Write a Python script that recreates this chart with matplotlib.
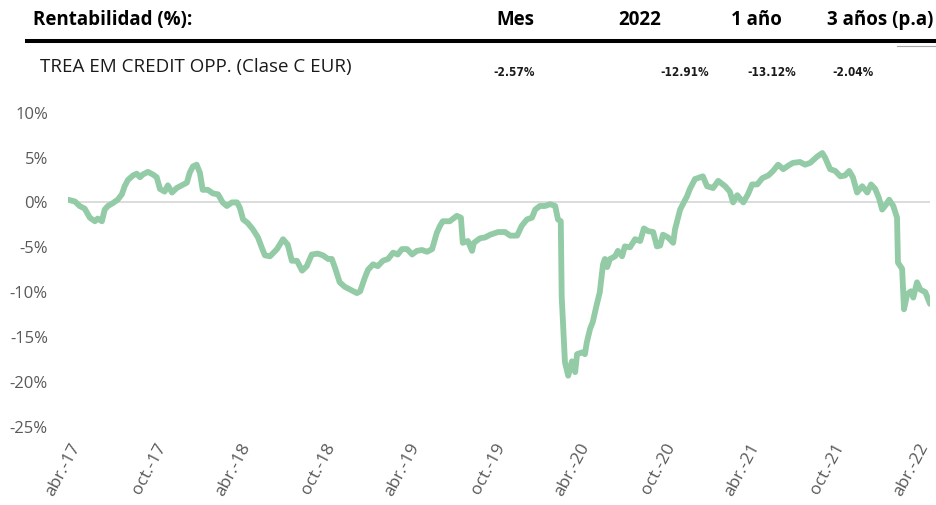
import matplotlib
matplotlib.use('Agg')
import matplotlib.pyplot as plt
import matplotlib.transforms as mtransforms
from matplotlib.lines import Line2D
import pandas as pd

# Rentabilidad acumulada del fondo (%)
fechas = [
    '2017-04-01', '2017-04-16', '2017-04-26', '2017-05-07', '2017-05-18', '2017-05-29',
    '2017-06-04', '2017-06-13', '2017-06-19', '2017-06-26', '2017-07-06', '2017-07-17',
    '2017-07-26', '2017-08-01', '2017-08-08', '2017-08-19', '2017-08-27', '2017-09-03',
    '2017-09-09', '2017-09-20', '2017-10-01', '2017-10-09', '2017-10-16', '2017-10-26',
    '2017-11-02', '2017-11-11', '2017-11-21', '2017-12-02', '2017-12-13', '2017-12-19',
    '2017-12-26', '2018-01-03', '2018-01-10', '2018-01-16', '2018-01-27', '2018-02-07',
    '2018-02-18', '2018-02-28', '2018-03-09', '2018-03-20', '2018-03-31', '2018-04-06',
    '2018-04-13', '2018-04-23', '2018-05-04', '2018-05-15', '2018-05-23', '2018-05-30',
    '2018-06-10', '2018-06-25', '2018-07-08', '2018-07-18', '2018-07-27', '2018-08-07',
    '2018-08-18', '2018-08-28', '2018-09-08', '2018-09-21', '2018-10-02', '2018-10-13',
    '2018-10-21', '2018-10-28', '2018-11-07', '2018-11-18', '2018-11-29', '2018-12-14',
    '2018-12-21', '2018-12-31', '2019-01-07', '2019-01-18', '2019-01-28', '2019-02-08',
    '2019-02-19', '2019-03-02', '2019-03-12', '2019-03-21', '2019-04-01', '2019-04-12',
    '2019-04-22', '2019-05-03', '2019-05-14', '2019-05-25', '2019-06-04', '2019-06-11',
    '2019-06-17', '2019-07-02', '2019-07-17', '2019-07-26', '2019-07-30', '2019-08-10',
    '2019-08-19', '2019-08-23', '2019-09-05', '2019-09-16', '2019-09-27', '2019-10-14',
    '2019-10-29', '2019-11-09', '2019-11-24', '2019-12-04', '2019-12-15', '2019-12-26',
    '2020-01-02', '2020-01-12', '2020-01-23', '2020-02-03', '2020-02-14', '2020-02-20',
    '2020-02-26', '2020-02-28', '2020-03-06', '2020-03-13', '2020-03-21', '2020-03-28',
    '2020-04-01', '2020-04-12', '2020-04-18', '2020-04-22', '2020-04-29', '2020-05-05',
    '2020-05-12', '2020-05-20', '2020-05-27', '2020-05-31', '2020-06-05', '2020-06-11',
    '2020-06-22', '2020-06-28', '2020-07-07', '2020-07-13', '2020-07-24', '2020-08-04',
    '2020-08-15', '2020-08-23', '2020-09-01', '2020-09-12', '2020-09-20', '2020-09-27',
    '2020-10-03', '2020-10-14', '2020-10-25', '2020-10-29', '2020-11-09', '2020-11-24',
    '2020-11-30', '2020-12-11', '2020-12-28', '2021-01-06', '2021-01-19', '2021-01-30',
    '2021-02-14', '2021-02-24', '2021-03-03', '2021-03-12', '2021-03-25', '2021-04-04',
    '2021-04-13', '2021-04-24', '2021-05-05', '2021-05-18', '2021-05-28', '2021-06-08',
    '2021-06-19', '2021-06-30', '2021-07-10', '2021-07-25', '2021-08-05', '2021-08-16',
    '2021-08-31', '2021-09-11', '2021-09-17', '2021-09-28', '2021-10-09', '2021-10-20',
    '2021-10-30', '2021-11-08', '2021-11-16', '2021-11-25', '2021-12-06', '2021-12-17',
    '2021-12-25', '2022-01-03', '2022-01-11', '2022-01-18', '2022-01-27', '2022-02-02',
    '2022-02-11', '2022-02-19', '2022-02-21', '2022-03-02', '2022-03-06', '2022-03-13',
    '2022-03-21', '2022-03-26', '2022-04-03', '2022-04-10', '2022-04-21', '2022-05-01',
]
rentabilidad = [
    0.2, 0.0, -0.5, -0.8, -1.8, -2.2,
    -1.9, -2.2, -0.9, -0.5, -0.2, 0.2,
    0.8, 1.7, 2.4, 2.9, 3.1, 2.7,
    3.0, 3.3, 3.0, 2.7, 1.4, 1.1,
    1.8, 1.0, 1.5, 1.8, 2.1, 3.2,
    3.9, 4.1, 3.2, 1.3, 1.3, 0.9,
    0.8, -0.1, -0.5, -0.1, -0.1, -0.7,
    -2.0, -2.4, -3.1, -4.0, -5.1, -6.0,
    -6.1, -5.3, -4.2, -4.8, -6.6, -6.6,
    -7.7, -7.2, -5.9, -5.8, -6.0, -6.4,
    -6.4, -7.4, -9.0, -9.5, -9.8, -10.2,
    -10.0, -8.5, -7.6, -7.0, -7.2, -6.6,
    -6.4, -5.7, -5.9, -5.3, -5.3, -5.9,
    -5.5, -5.4, -5.6, -5.3, -3.5, -2.7,
    -2.2, -2.2, -1.6, -1.8, -4.6, -4.4,
    -5.5, -4.6, -4.1, -4.0, -3.7, -3.4,
    -3.4, -3.8, -3.8, -2.7, -2.0, -1.8,
    -0.9, -0.5, -0.5, -0.3, -0.5, -2.0,
    -2.2, -10.6, -17.9, -19.4, -17.8, -19.0,
    -17.0, -16.8, -17.0, -15.7, -14.2, -13.4,
    -11.8, -10.1, -7.0, -6.4, -7.3, -6.4,
    -6.1, -5.5, -6.1, -5.0, -5.1, -4.2,
    -4.4, -3.0, -3.3, -3.4, -5.0, -4.9,
    -3.7, -4.0, -4.6, -3.1, -0.9, 0.6,
    1.4, 2.5, 2.8, 1.7, 1.5, 2.3,
    1.7, 1.1, -0.1, 0.7, -0.1, 0.8,
    1.9, 1.9, 2.6, 2.9, 3.4, 4.1,
    3.6, 4.0, 4.3, 4.4, 4.1, 4.3,
    5.0, 5.4, 4.9, 3.6, 3.4, 2.8,
    2.9, 3.4, 2.7, 1.0, 1.7, 1.0,
    1.9, 1.4, 0.4, -0.9, -0.3, 0.2,
    -0.5, -1.8, -6.8, -7.5, -12.0, -10.3,
    -10.0, -10.7, -9.0, -9.8, -10.1, -11.4,
]

fondo = 'TREA EM CREDIT OPP. (Clase C EUR)'
col_titulos = ['Mes', '2022', '1 año', '3 años (p.a)']
col_valores = ['-2.57%', '-12.91%', '-13.12%', '-2.04%']

x_ticks = ['2017-04-01', '2017-10-01', '2018-04-01', '2018-10-01', '2019-04-01', '2019-10-01',
           '2020-04-01', '2020-10-01', '2021-04-01', '2021-10-01', '2022-04-01']
x_labels = ['abr.-17', 'oct.-17', 'abr.-18', 'oct.-18', 'abr.-19', 'oct.-19',
            'abr.-20', 'oct.-20', 'abr.-21', 'oct.-21', 'abr.-22']
y_ticks = [10, 5, 0, -5, -10, -15, -20, -25]

plt.rcParams['font.family'] = ['Open Sans', 'DejaVu Sans']

W, H = 936, 506
fig = plt.figure(figsize=(W / 100, H / 100), dpi=100)


def px(x, y):
    # coordenadas en píxeles -> fracción de figura
    return x / W, 1 - y / H


# cabecera de la tabla de rentabilidades
fig.text(*px(33, 20), 'Rentabilidad (%):', fontsize=13.5, fontweight='bold', va='center', ha='left')
for cx, t in zip([515, 640, 756, 880], col_titulos):
    fig.text(*px(cx, 20), t, fontsize=13.5, fontweight='bold', va='center', ha='center')
fig.add_artist(Line2D([27 / W, 935 / W], [1 - 41.5 / H] * 2, color='black', lw=2.9))
fig.add_artist(Line2D([897 / W, 935 / W], [1 - 46.5 / H] * 2, color='#A6A6A6', lw=0.8))
fig.text(*px(40, 67), fondo, fontsize=13.5, va='center', ha='left', color='#1a1a1a')
for lx, v in zip([493, 660, 747, 832], col_valores):
    fig.text(*px(lx, 73), v, fontsize=8.5, va='center', ha='left', fontweight='bold',
             family='DejaVu Sans', fontstretch='condensed', color='#1a1a1a')

# gráfico
ax = fig.add_axes([68 / W, 1 - 427 / H, (930 - 68) / W, (427 - 112.7) / H])
x = pd.to_datetime(fechas)
ax.plot(x, rentabilidad, color='#92CBA6', lw=4.2, solid_joinstyle='round',
        solid_capstyle='round', zorder=3)
ax.axhline(0, color='#D9D9D9', lw=1.3, zorder=2)
ax.set_xlim(x[0], x[-1])
ax.set_ylim(-25, 10)

ax.set_yticks(y_ticks)
ax.set_yticklabels([f'{v}%' for v in y_ticks])
ax.tick_params(axis='y', length=0, pad=14.4, labelsize=12, labelcolor='#595959')

ax.set_xticks(pd.to_datetime(x_ticks))
ax.set_xticklabels(x_labels, rotation=62, ha='right', va='top', rotation_mode='anchor')
ax.tick_params(axis='x', length=0, pad=10, labelsize=12.5, labelcolor='#595959')
offset = mtransforms.ScaledTranslation(2 / 100, 0, fig.dpi_scale_trans)
for lab in ax.get_xticklabels():
    lab.set_transform(lab.get_transform() + offset)

for s in ax.spines.values():
    s.set_visible(False)
ax.set_facecolor('none')

fig.savefig('out.png', dpi=100)
